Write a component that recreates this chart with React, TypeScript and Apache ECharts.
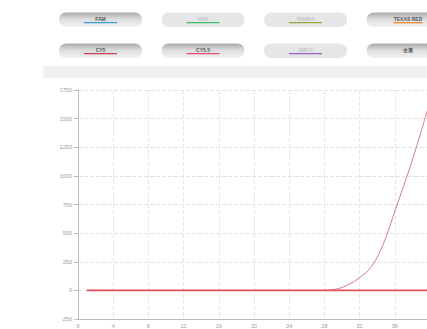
import React, { useEffect, useRef } from "react";
import * as echarts from "echarts";

const cycles = Array.from({ length: 40 }, (_, i) => i + 1);
const flatValues = [
  0, 0, 0, 0, 0, 0, 0, 0, 0, 0, 0, 0, 0, 0, 0, 0, 0, 0, 0, 0,
  0, 0, 0, 0, 0, 0, 0, 0, 0, 0, 0, 0, 0, 0, 0, 0, 0, 0, 0, 0,
];
const curveValues = [
  0, 0, 0, 0, 0, 0, 0, 0, 0, 0, 0, 0, 0, 0, 0, 0, 0, 0, 0, 0,
  0, 0, 0, 0, 0, 0, 0, 0, 7, 25, 60, 110, 175, 290, 465, 690, 910, 1140, 1390, 1650,
];
const buttonLabels = ["FAM", "HEX", "TAMRA", "TEXAS RED", "CY5", "CY5.5", "AMCA", "全選"];
const buttonActive = [true, false, false, true, true, true, false, true];
const buttonColors = ["#3d9bd6", "#3fbf6a", "#9aa53c", "#f08a2c", "#c8404e", "#ee4a6c", "#9b5fd0", ""];

export default function App() {
  const ref = useRef<HTMLDivElement>(null);
  useEffect(() => {
    if (!ref.current) return;
    const chart = echarts.init(ref.current, null, { renderer: "svg" });
    const graphics: any[] = [];
    buttonLabels.forEach((label, i) => {
      const col = i % 4;
      const row = Math.floor(i / 4);
      const x = 59 + col * 102.5;
      const y = 12.5 + row * 31;
      const w = 83;
      const h = 14.5;
      const active = buttonActive[i];
      graphics.push({
        type: "rect",
        shape: { x, y, width: w, height: h, r: 7.5 },
        style: {
          fill: active
            ? new echarts.graphic.LinearGradient(0, 0, 0, 1, [
                { offset: 0, color: "#a9a9a9" },
                { offset: 0.45, color: "#dcdcdc" },
                { offset: 1, color: "#f2f2f2" },
              ])
            : "#e6e6e6",
        },
        silent: true,
      });
      graphics.push({
        type: "text",
        x: x + w / 2,
        y: y + 6.5,
        style: {
          text: label,
          fill: active ? "#555" : "#c4c4c4",
          font: "bold 5px Arial, 'Liberation Sans', sans-serif",
          align: "center",
          verticalAlign: "middle",
        },
        silent: true,
      });
      if (buttonColors[i]) {
        const uw = label.length > 6 ? 29 : 33;
        graphics.push({
          type: "line",
          shape: { x1: x + w / 2 - uw / 2, y1: y + 10.2, x2: x + w / 2 + uw / 2, y2: y + 10.2 },
          style: { stroke: buttonColors[i], lineWidth: 1.3 },
          silent: true,
        });
      }
    });
    graphics.push({
      type: "rect",
      shape: { x: 43, y: 66, width: 400, height: 12 },
      style: { fill: "#f0f0f3" },
      silent: true,
    });

    chart.setOption({
      animation: false,
      graphic: graphics,
      grid: { left: 78, top: 90, width: 352, height: 230, containLabel: false },
      xAxis: {
        type: "value",
        min: 0,
        max: 40,
        interval: 4,
        axisLine: { show: true, onZero: false, lineStyle: { color: "#bdbdbd", width: 1 } },
        axisTick: { show: false },
        axisLabel: { color: "#9a9a9a", fontSize: 5.5, margin: 4, showMaxLabel: false, fontFamily: "Arial, 'Liberation Sans', sans-serif" },
        splitLine: { show: true, lineStyle: { color: "#e4e4e4", type: "dashed", width: 1 } },
      },
      yAxis: {
        type: "value",
        min: -250,
        max: 1750,
        interval: 250,
        axisLine: { show: true, onZero: false, lineStyle: { color: "#bdbdbd", width: 1 } },
        axisTick: { show: true, length: 4, lineStyle: { color: "#bdbdbd" } },
        axisLabel: {
          color: "#9a9a9a",
          fontSize: 5.5,
          margin: 6,
          formatter: (v: number) => String(v),
          fontFamily: "Arial, 'Liberation Sans', sans-serif",
        },
        splitLine: { show: true, lineStyle: { color: "#e2e2e2", type: "dashed", width: 1 } },
      },
      series: [
        {
          type: "line",
          data: cycles.map((c, i) => [c, curveValues[i]]),
          smooth: 0.3,
          showSymbol: false,
          lineStyle: { color: "#cf7f8b", width: 1 },
          z: 2,
        },
        {
          type: "line",
          data: cycles.map((c, i) => [c, flatValues[i]]),
          showSymbol: false,
          lineStyle: { color: "#e8505f", width: 1.8 },
          z: 3,
        },
      ],
    });
    return () => chart.dispose();
  }, []);
  return (
    <div style={{ position: "fixed", left: 0, top: 0, width: 427, height: 329, overflow: "hidden", background: "#fff" }}>
      <div ref={ref} style={{ width: 450, height: 329 }} />
    </div>
  );
}
